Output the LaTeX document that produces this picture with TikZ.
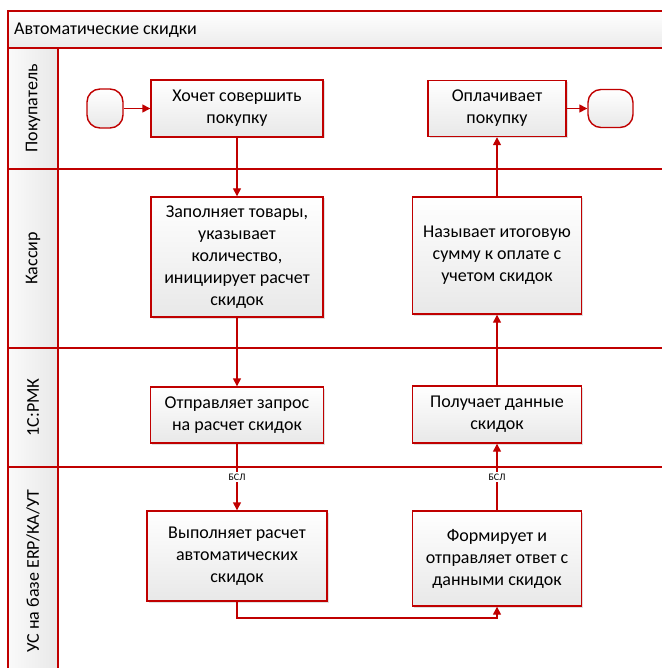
\documentclass[tikz,border=0pt]{standalone}
\usepackage{fontspec}
\setmainfont{Carlito}
\usetikzlibrary{arrows.meta,shadows}
\definecolor{bred}{HTML}{C00000}
\begin{document}
\begin{tikzpicture}[x=1pt,y=-1pt,
  frame/.style={draw=bred, line width=1.4pt},
  box/.style={draw=bred, line width=1.4pt, top color=white, bottom color=black!9,
    align=center, font=\fontsize{18}{22}\selectfont, inner sep=2pt,
    drop shadow={shadow xshift=1.5pt, shadow yshift=-1.5pt, opacity=0.3, fill=black!40}},
  term/.style={draw=bred, line width=1.4pt, top color=white, bottom color=black!9,
    rounded corners=13pt, inner sep=0pt},
  flow/.style={draw=bred, line width=1.4pt, -{Triangle[length=8pt,width=8pt]}},
  lbl/.style={fill=white, inner sep=1.5pt, font=\fontsize{10}{11}\selectfont},
  lanelbl/.style={rotate=90, font=\fontsize{18}{20}\selectfont, inner sep=0pt}
]
\useasboundingbox (0,0) rectangle (661,668);
% frame and lanes
\fill[top color=white, bottom color=black!8] (8,11) rectangle (662,48);
\fill[left color=black!2, right color=black!9] (8,48) rectangle (58,669);
\draw[frame] (662,11) -- (8,11) -- (8,669);
\draw[frame] (8,48) -- (662,48);
\draw[frame] (58,48) -- (58,669);
\draw[frame] (8,169) -- (662,169);
\draw[frame] (8,348) -- (662,348);
\draw[frame] (8,467) -- (662,467);
\node[anchor=west, font=\fontsize{18}{20}\selectfont, inner sep=0pt] (title) at (14,30) {Автоматические скидки};
\node[lanelbl] (l1) at (33,108.5) {Покупатель};
\node[lanelbl] (l2) at (33,258.5) {Кассир};
\node[lanelbl] (l3) at (33,407.5) {1С:РМК};
\node[lanelbl] (l4) at (33,571) {УС на базе ERP/КА/УТ};
% terminals
\node[term, minimum width=36pt, minimum height=39pt] (ts) at (105,108.5) {};
\node[term, minimum width=45pt, minimum height=38pt] (te) at (610.5,108.5) {};
% left column
\node[box, minimum width=172pt, minimum height=57pt] (b1) at (237,108.5) {Хочет совершить\\покупку};
\node[box, minimum width=172pt, minimum height=120pt] (b2) at (237,257) {Заполняет товары,\\указывает\\количество,\\инициирует расчет\\скидок};
\node[box, minimum width=173pt, minimum height=56pt] (b3) at (237,415) {Отправляет запрос\\на расчет скидок};
\node[box, minimum width=180pt, minimum height=90pt] (b4) at (237,556) {Выполняет расчет\\автоматических\\скидок};
% right column
\node[box, minimum width=138pt, minimum height=56pt] (r1) at (497,108.5) {Оплачивает\\покупку};
\node[box, minimum width=169pt, minimum height=117pt] (r2) at (497,255.5) {Называет итоговую\\сумму к оплате с\\учетом скидок};
\node[box, minimum width=169pt, minimum height=57pt] (r3) at (497,414.5) {Получает данные\\скидок};
\node[box, minimum width=169pt, minimum height=95pt] (r4) at (497,558.5) {Формирует и\\отправляет ответ с\\данными скидок};
\coordinate (bend) at (237,618);
% connectors
\draw[flow] (ts) -- (b1);
\draw[flow] (b1) -- (b2);
\draw[flow] (b2) -- (b3);
\draw[flow] (b3) -- node[lbl] {БСЛ} (b4);
\draw[flow] (b4.south) -- (bend) -| (r4.south);
\draw[flow] (r4) -- node[lbl] {БСЛ} (r3);
\draw[flow] (r3) -- (r2);
\draw[flow] (r2) -- (r1);
\draw[flow] (r1) -- (te);
\end{tikzpicture}
\end{document}
